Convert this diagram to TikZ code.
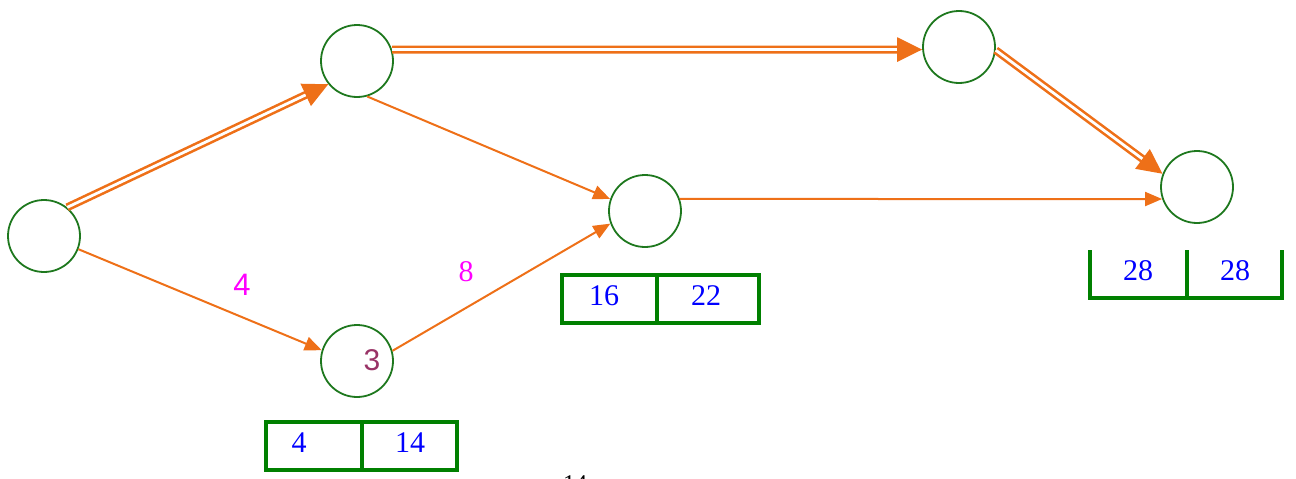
\documentclass[tikz,border=0pt]{standalone}
\usepackage{fontspec}
\setmainfont{Liberation Serif}
\newfontfamily\arialf{Liberation Sans}
\usetikzlibrary{arrows.meta}
\definecolor{orng}{RGB}{238,112,24}
\definecolor{cgreen}{RGB}{30,120,30}
\definecolor{bgreen}{RGB}{0,128,0}
\definecolor{plum}{RGB}{153,51,102}
\definecolor{mag}{RGB}{255,0,255}
\definecolor{nblue}{RGB}{0,0,255}
\tikzset{
  circ/.style={circle,draw=cgreen,line width=1.8pt,minimum size=72pt,inner sep=0pt},
  sarr/.style={draw=orng,line width=2pt,-{Triangle[length=17pt,width=14pt]}},
  darr/.style={draw=orng,double=white,double distance=2.8pt,line width=2.6pt,-{Triangle[length=25pt,width=24pt]}},
  boxline/.style={draw=bgreen,line width=3.4pt},
  boxnum/.style={text=nblue,font=\fontsize{30}{30}\selectfont,inner sep=0pt},
  maglbl/.style={text=mag,inner sep=0pt}
}
\begin{document}
\begin{tikzpicture}[x=1pt,y=-1pt]
\useasboundingbox (0,0) rectangle (1296,479);
% nodes
\node[circ] (A) at (44,236) {};
\node[circ] (B) at (357,61) {};
\node[circ] (C) at (357,361) {};
\node[circ] (D) at (645,211) {};
\node[circ] (E) at (959,47) {};
\node[circ] (F) at (1197,187) {};
\node[text=plum,font=\arialf\fontsize{30}{30}\selectfont,inner sep=0pt] (c3) at (372,360) {3};
% connectors
\draw[darr] (A.51) -- (B.219);
\draw[sarr] (A.-21) -- (C.163);
\draw[sarr] (B.-74) -- (D.161);
\draw[sarr] (C.16) -- (D.200);
\draw[darr] (B.18) -- (E.184);
\draw[sarr] (D.19.5) -- (F.199.5);
\draw[darr] (E.-5) -- (F.159);
% edge labels
\node[maglbl,font=\arialf\fontsize{31}{31}\selectfont] (l4) at (242,285) {4};
\node[maglbl,font=\fontsize{30}{30}\selectfont] (l8) at (466,272) {8};
% box 1
\draw[boxline] (266,422) rectangle (457,470);
\draw[boxline] (362,422) -- (362,470);
\node[boxnum] (b1a) at (299,443) {4};
\node[boxnum] (b1b) at (410,443) {14};
% box 2
\draw[boxline] (562,275) rectangle (759,323);
\draw[boxline] (657,275) -- (657,323);
\node[boxnum] (b2a) at (604,296) {16};
\node[boxnum] (b2b) at (706,296) {22};
% box 3 (open top)
\draw[boxline] (1090,250) -- (1090,298) -- (1282,298) -- (1282,250);
\draw[boxline] (1187,250) -- (1187,298);
\node[boxnum] (b3a) at (1138,271) {28};
\node[boxnum] (b3b) at (1235,271) {28};
% cut-off page number
\node[anchor=north,inner sep=0pt,font=\fontsize{24}{24}\selectfont] (pg) at (575,475) {14};
\end{tikzpicture}
\end{document}
